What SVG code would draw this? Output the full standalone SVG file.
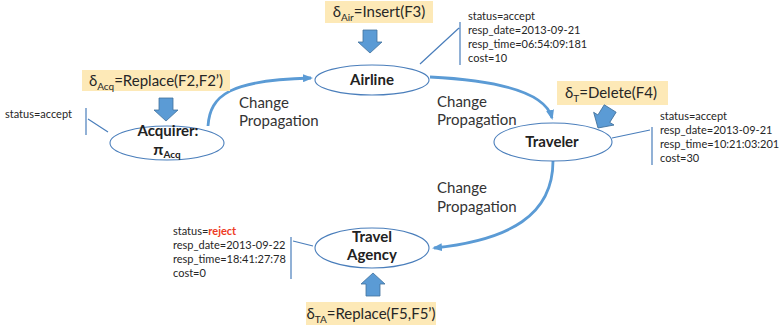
<svg xmlns="http://www.w3.org/2000/svg" width="781" height="331" viewBox="0 0 781 331">
<defs>
<style>
.node{fill:#fff;stroke:#4a7ebb;stroke-width:1.1}
.lbl{font-family:Lato,"Liberation Sans",sans-serif;font-size:15px;font-weight:bold;fill:#222;text-anchor:middle}
.cp{font-family:Lato,"Liberation Sans",sans-serif;font-size:15px;fill:#333}
.st{font-family:Lato,"Liberation Sans",sans-serif;font-size:11px;fill:#262626}
.dbox{fill:#fde9b7}
.dt{font-family:Lato,"Liberation Sans",sans-serif;font-size:15px;fill:#262626;text-anchor:middle}
.barrow{fill:#5b9bd5;stroke:#41719c;stroke-width:0.8}
.conn{fill:none;stroke:#5b9bd5;stroke-width:2.8}
.tick{fill:none;stroke:#4a7ebb;stroke-width:1.2}
</style>
<marker id="ah" markerWidth="10" markerHeight="8" refX="8" refY="4" orient="auto" markerUnits="userSpaceOnUse" viewBox="0 0 10 8">
<path d="M0,0 L10,4 L0,8 Z" fill="#5b9bd5"/>
</marker>
<path id="darrow" d="M-7,-23 L7,-23 L7,-11 L12,-11 L0,0 L-12,-11 L-7,-11 Z"/>
</defs>

<g id="connectors">
<path class="conn" d="M208,126 C210,95 230,80 311,78" marker-end="url(#ah)"/>
<path class="conn" d="M430,77 C490,80 545,90 552,118" marker-end="url(#ah)"/>
<path class="conn" d="M553,161 C553,215 510,240 434,248" marker-end="url(#ah)"/>
<text class="cp" x="239" y="108">Change</text>
<text class="cp" x="239" y="126">Propagation</text>
<text class="cp" x="437" y="107">Change</text>
<text class="cp" x="437" y="125">Propagation</text>
<text class="cp" x="437" y="193">Change</text>
<text class="cp" x="437" y="212">Propagation</text>
</g>

<g id="acquirer">
<ellipse class="node" cx="167" cy="143" rx="57" ry="17"/>
<text class="lbl" x="168" y="136">Acquirer:</text>
<text class="lbl" x="167" y="155"><tspan font-size="16">π</tspan><tspan font-size="10" dy="3">Acq</tspan></text>
</g>
<g id="acquirer-delta">
<rect class="dbox" x="82" y="70" width="148" height="21"/>
<text class="dt" x="156" y="86">δ<tspan font-size="10" dy="4">Acq</tspan><tspan dy="-4">=Replace(F2,F2’)</tspan></text>
<use href="#darrow" class="barrow" transform="translate(166,121)"/>
</g>
<g id="acquirer-status">
<path class="tick" d="M86,108 L86,135 M88,119 L108,132"/>
<text class="st" x="5" y="118">status=accept</text>
</g>

<g id="airline">
<ellipse class="node" cx="372" cy="80" rx="57" ry="15"/>
<text class="lbl" x="372" y="85">Airline</text>
</g>
<g id="airline-delta">
<rect class="dbox" x="325" y="1" width="108" height="22"/>
<text class="dt" x="379" y="17">δ<tspan font-size="10" dy="4">Air</tspan><tspan dy="-4">=Insert(F3)</tspan></text>
<use href="#darrow" class="barrow" transform="translate(370,53)"/>
</g>
<g id="airline-status">
<path class="tick" d="M460,22 L460,65 M420,64 L459,28"/>
<text class="st" x="468" y="20">status=accept</text>
<text class="st" x="468" y="34">resp_date=2013-09-21</text>
<text class="st" x="468" y="48">resp_time=06:54:09:181</text>
<text class="st" x="468" y="62">cost=10</text>
</g>

<g id="traveler">
<ellipse class="node" cx="553" cy="142" rx="59" ry="19"/>
<text class="lbl" x="552" y="147">Traveler</text>
</g>
<g id="traveler-delta">
<rect class="dbox" x="557" y="81" width="111" height="24"/>
<text class="dt" x="611" y="98">δ<tspan font-size="10" dy="4">T</tspan><tspan dy="-4">=Delete(F4)</tspan></text>
<use href="#darrow" class="barrow" transform="translate(598,128) rotate(32)"/>
</g>
<g id="traveler-status">
<path class="tick" d="M652,127 L652,165 M612,138 L650,130"/>
<text class="st" x="660" y="120">status=accept</text>
<text class="st" x="660" y="134">resp_date=2013-09-21</text>
<text class="st" x="660" y="148">resp_time=10:21:03:201</text>
<text class="st" x="660" y="162">cost=30</text>
</g>

<g id="travel-agency">
<ellipse class="node" cx="372" cy="248" rx="57" ry="20"/>
<text class="lbl" x="372" y="242">Travel</text>
<text class="lbl" x="372" y="260">Agency</text>
</g>
<g id="travel-agency-delta">
<use href="#darrow" class="barrow" transform="translate(373,273) rotate(180)"/>
<rect class="dbox" x="306" y="302" width="130" height="23"/>
<text class="dt" x="371" y="319">δ<tspan font-size="10" dy="4">TA</tspan><tspan dy="-4">=Replace(F5,F5’)</tspan></text>
</g>
<g id="travel-agency-status">
<path class="tick" d="M291,237 L291,279 M293,241 L313,246"/>
<text class="st" x="173" y="235">status=<tspan font-weight="bold" fill="#ee3a24">reject</tspan></text>
<text class="st" x="173" y="249">resp_date=2013-09-22</text>
<text class="st" x="173" y="263">resp_time=18:41:27:78</text>
<text class="st" x="173" y="277">cost=0</text>
</g>
</svg>
